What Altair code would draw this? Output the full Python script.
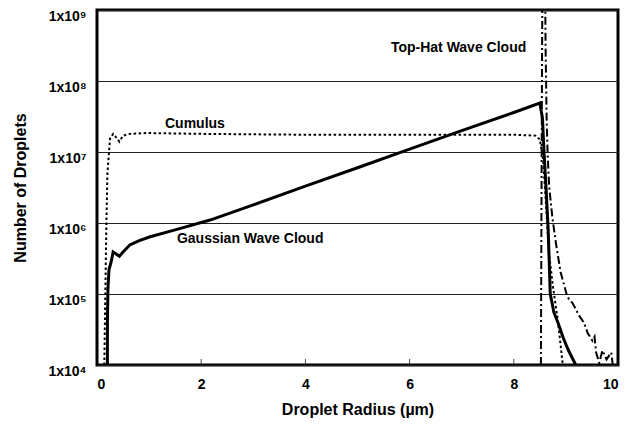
import altair as alt
import pandas as pd

# Droplet radius (um) and number of droplets for each cloud type
gauss_r = [0.20, 0.20, 0.21, 0.23, 0.27, 0.31, 0.36, 0.43, 0.50, 0.63, 0.80, 1.02, 1.50,
           2.17, 3.0, 4.0, 5.0, 6.0, 7.0, 8.0, 8.50, 8.55, 8.58, 8.62, 8.66, 8.70,
           8.77, 8.85, 8.95, 9.05, 9.19]
gauss_n = [1e4, 4e4, 1.2e5, 2.2e5, 2.8e5, 3.9e5, 3.7e5, 3.4e5, 3.9e5, 4.9e5, 5.6e5, 6.4e5, 8.0e5,
           1.1e6, 1.8e6, 3.3e6, 6.0e6, 1.1e7, 2.0e7, 3.6e7, 4.9e7, 3.0e7, 1.0e7, 3.0e6, 8.0e5, 1.0e5,
           5.5e4, 3.9e4, 2.4e4, 1.6e4, 1.0e4]

cumulus_r = [0.14, 0.16, 0.18, 0.20, 0.25, 0.31, 0.37, 0.43, 0.50, 0.63, 0.96, 2.0, 4.0,
             6.0, 8.0, 8.42, 8.50, 8.56, 8.60, 8.64, 8.67, 8.75, 8.85, 8.94]
cumulus_n = [1e4, 1e5, 1e6, 5e6, 1.55e7, 1.8e7, 1.6e7, 1.4e7, 1.7e7, 1.8e7, 1.85e7, 1.8e7, 1.75e7,
             1.75e7, 1.75e7, 1.7e7, 1.5e7, 8e6, 3e6, 1e6, 4e5, 1.3e5, 4e4, 1e4]

tophat_r = [8.52, 8.53, 8.54, 8.55, 8.60, 8.61, 8.63, 8.65, 8.68, 8.74, 8.81, 8.90, 9.03,
            9.13, 9.25, 9.35, 9.42, 9.51, 9.55, 9.58, 9.64, 9.70, 9.78, 9.87, 9.90]
tophat_n = [1e4, 1e6, 1e8, 3e9, 3e9, 3e8, 3e7, 9e6, 3.2e6, 1.2e6, 5.1e5, 2e5, 9e4,
            7.4e4, 5e4, 3.9e4, 2.8e4, 2.2e4, 2.5e4, 1.5e4, 1.07e4, 1.6e4, 1.2e4, 1.5e4, 1e4]

label_text = ["Top-Hat Wave Cloud", "Cumulus", "Gaussian Wave Cloud"]
label_r = [6.94, 1.88, 2.94]
label_n = [2.9e8, 2.5e7, 5.9e5]

x_ticks = [0, 2, 4, 6, 8, 10]
y_ticks = [1e4, 1e5, 1e6, 1e7, 1e8, 1e9]

FONT = "Liberation Sans"


def series(r, n):
    return pd.DataFrame({"r": r, "n": n, "i": list(range(len(r)))})


x_enc = alt.X(
    "r:Q",
    scale=alt.Scale(domain=[0, 10], nice=False),
    axis=alt.Axis(
        values=x_ticks, grid=False, ticks=False, domain=False,
        labelFont=FONT, labelFontSize=14, labelFontWeight="bold", labelColor="black",
        labelPadding=12, title="Droplet Radius (\u00b5m)", titleFont=FONT,
        titleFontSize=16, titleFontWeight="bold", titleColor="black", titlePadding=10,
    ),
)
y_enc = alt.Y(
    "n:Q",
    scale=alt.Scale(type="log", domain=[1e4, 1e9], nice=False),
    axis=alt.Axis(
        values=y_ticks, grid=True, gridColor="#222", gridWidth=1, gridOpacity=1,
        ticks=False, domain=False,
        labelExpr="'1x10' + ['\u2070','\u00b9','\u00b2','\u00b3','\u2074','\u2075','\u2076','\u2077','\u2078','\u2079'][round(log(datum.value)/LN10)]",
        labelFont=FONT, labelFontSize=14, labelFontWeight="bold", labelColor="black",
        labelPadding=11, labelOffset=6,
        title="Number of Droplets", titleFont=FONT, titleFontSize=16,
        titleFontWeight="bold", titleColor="black", titlePadding=19,
    ),
)

gauss = alt.Chart(series(gauss_r, gauss_n)).mark_line(
    color="black", strokeWidth=3, clip=True
).encode(x=x_enc, y=y_enc, order="i:Q")

cumulus = alt.Chart(series(cumulus_r, cumulus_n)).mark_line(
    color="black", strokeWidth=2, strokeDash=[2.5, 2.5], clip=True
).encode(x="r:Q", y="n:Q", order="i:Q")

tophat = alt.Chart(series(tophat_r, tophat_n)).mark_line(
    color="black", strokeWidth=2, strokeDash=[8, 3, 2, 3], clip=True
).encode(x="r:Q", y="n:Q", order="i:Q")

labels = alt.Chart(
    pd.DataFrame({"t": label_text, "r": label_r, "n": label_n})
).mark_text(
    font=FONT, fontSize=14, fontWeight="bold", color="black", align="center", baseline="middle"
).encode(x="r:Q", y="n:Q", text="t:N")

minor_ticks = alt.Chart(pd.DataFrame({"r": x_ticks[1:-1]})).mark_tick(
    color="black", orient="vertical", size=6, thickness=1
).encode(x="r:Q", y=alt.value(352))

chart = alt.layer(gauss, cumulus, tophat, labels, minor_ticks).properties(
    width=521, height=355,
    autosize=alt.AutoSizeParams(type="none"),
    padding={"left": 97, "top": 10, "right": 8, "bottom": 64},
    background="white",
).configure_view(stroke="black", strokeWidth=3)

chart.save("out.html", embed_options={"renderer": "svg", "actions": False})
